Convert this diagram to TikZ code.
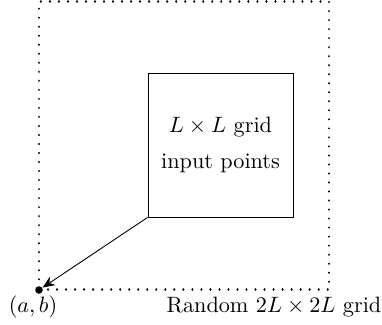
\documentclass[tikz,border=0pt]{standalone}
\usetikzlibrary{arrows.meta}
\tikzset{
  dotframe/.style={draw, line width=1pt, dash pattern=on 0.01pt off 4.05pt, line cap=round, inner sep=0pt},
  gridbox/.style={draw, line width=0.4pt, inner sep=0pt, align=center},
  lbl/.style={inner sep=0pt, anchor=center},
  pointdot/.style={circle, fill=black, inner sep=0pt, minimum size=3.4pt},
  arr/.style={-{Stealth[length=5.5pt,width=4.5pt]}, line width=0.4pt}
}
\begin{document}
\begin{tikzpicture}[x=0.45pt,y=-0.45pt]
\useasboundingbox (0,0) rectangle (382,325);
\node (outer) [dotframe, minimum width=130.5pt, minimum height=129.6pt] at (184,145.5) {};
\node (box) [gridbox, minimum width=65.25pt, minimum height=64.8pt] at (220.5,145) {$L\times L$ grid\\[4.6pt] input points};
\node (ab) [pointdot] at (39,290) {};
\node (ablbl) [lbl] at (33,307) {$(a,b)$};
\node (rlbl) [lbl] at (274,307) {Random $2L\times 2L$ grid};
\draw[arr] (box.south west) -- (ab);
\end{tikzpicture}
\end{document}
